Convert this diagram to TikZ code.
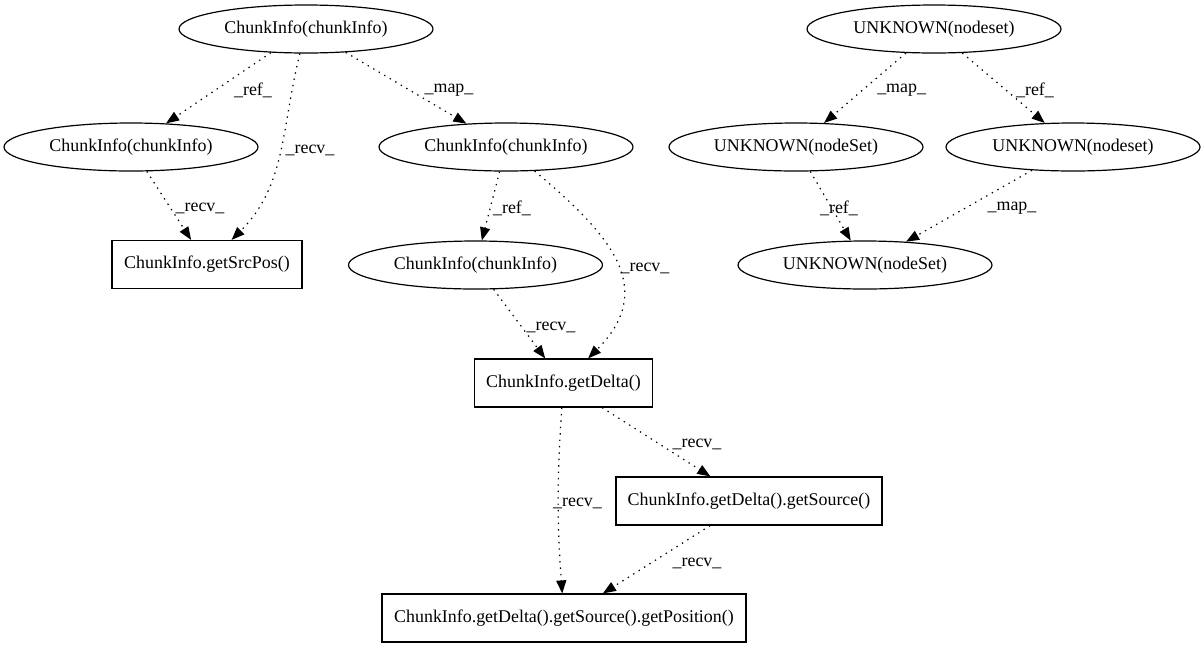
\documentclass[tikz,border=0pt]{standalone}
\usepackage{fontspec}
\setmainfont{Liberation Serif}
\usetikzlibrary{shapes.geometric,arrows.meta}
\begin{document}
\begin{tikzpicture}[x=1pt,y=-1pt,
  font=\fontsize{17.9}{20}\selectfont,
  ell/.style={ellipse,draw,line width=1.2pt,minimum width=254pt,minimum height=48pt,inner sep=0pt},
  boxn/.style={rectangle,draw,line width=1.2pt,minimum height=48pt,inner sep=0pt},
  lbl/.style={inner sep=0pt},
  edge/.style={line width=1.2pt,dash pattern=on 1.4pt off 5pt,-{Triangle[length=13pt,width=10pt]}}]
\useasboundingbox (0,0) rectangle (1204,649);
\node[ell] (A) at (306,29) {ChunkInfo(chunkInfo)};
\node[ell] (B) at (131,147) {ChunkInfo(chunkInfo)};
\node[ell] (C) at (506,147) {ChunkInfo(chunkInfo)};
\node[boxn,minimum width=190pt] (D) at (207,264.5) {ChunkInfo.getSrcPos()};
\node[ell] (E) at (475.5,265) {ChunkInfo(chunkInfo)};
\node[boxn,minimum width=178pt] (F) at (563.5,383) {ChunkInfo.getDelta()};
\node[boxn,minimum width=266pt] (G) at (749,501) {ChunkInfo.getDelta().getSource()};
\node[boxn,minimum width=364pt] (H) at (564,618) {ChunkInfo.getDelta().getSource().getPosition()};
\node[ell] (I) at (934,29) {UNKNOWN(nodeset)};
\node[ell] (J) at (796,147) {UNKNOWN(nodeSet)};
\node[ell] (K) at (1073,147) {UNKNOWN(nodeset)};
\node[ell] (L) at (865,265) {UNKNOWN(nodeSet)};

\draw[edge] (A) -- (B);
\draw[edge] (A) to[out=-104,in=45] (D);
\draw[edge] (A) -- (C);
\draw[edge] (B) -- (D);
\draw[edge] (C) -- (E);
\draw[edge] (C) to[out=-40,in=45,looseness=1.3] (F);
\draw[edge] (E) -- (F);
\draw[edge] (F) -- (G);
\draw[edge] (F) to[bend right=4] (H);
\draw[edge] (G) -- (H);
\draw[edge] (I) -- (J);
\draw[edge] (I) -- (K);
\draw[edge] (J) -- (L);
\draw[edge] (K) -- (L);

\node[lbl] (lAB) at (253,90) {\_ref\_};
\node[lbl] (lAD) at (310,150) {\_recv\_};
\node[lbl] (lAC) at (449,90) {\_map\_};
\node[lbl] (lBD) at (200,208) {\_recv\_};
\node[lbl] (lCE) at (512,208) {\_ref\_};
\node[lbl] (lCF) at (645,268) {\_recv\_};
\node[lbl] (lEF) at (551,327) {\_recv\_};
\node[lbl] (lFG) at (697,444) {\_recv\_};
\node[lbl] (lFH) at (577.5,503) {\_recv\_};
\node[lbl] (lGH) at (697,563) {\_recv\_};
\node[lbl] (lIJ) at (901.6,90) {\_map\_};
\node[lbl] (lIK) at (1035,90) {\_ref\_};
\node[lbl] (lJL) at (839,208) {\_ref\_};
\node[lbl] (lKL) at (1012,208) {\_map\_};
\end{tikzpicture}
\end{document}
